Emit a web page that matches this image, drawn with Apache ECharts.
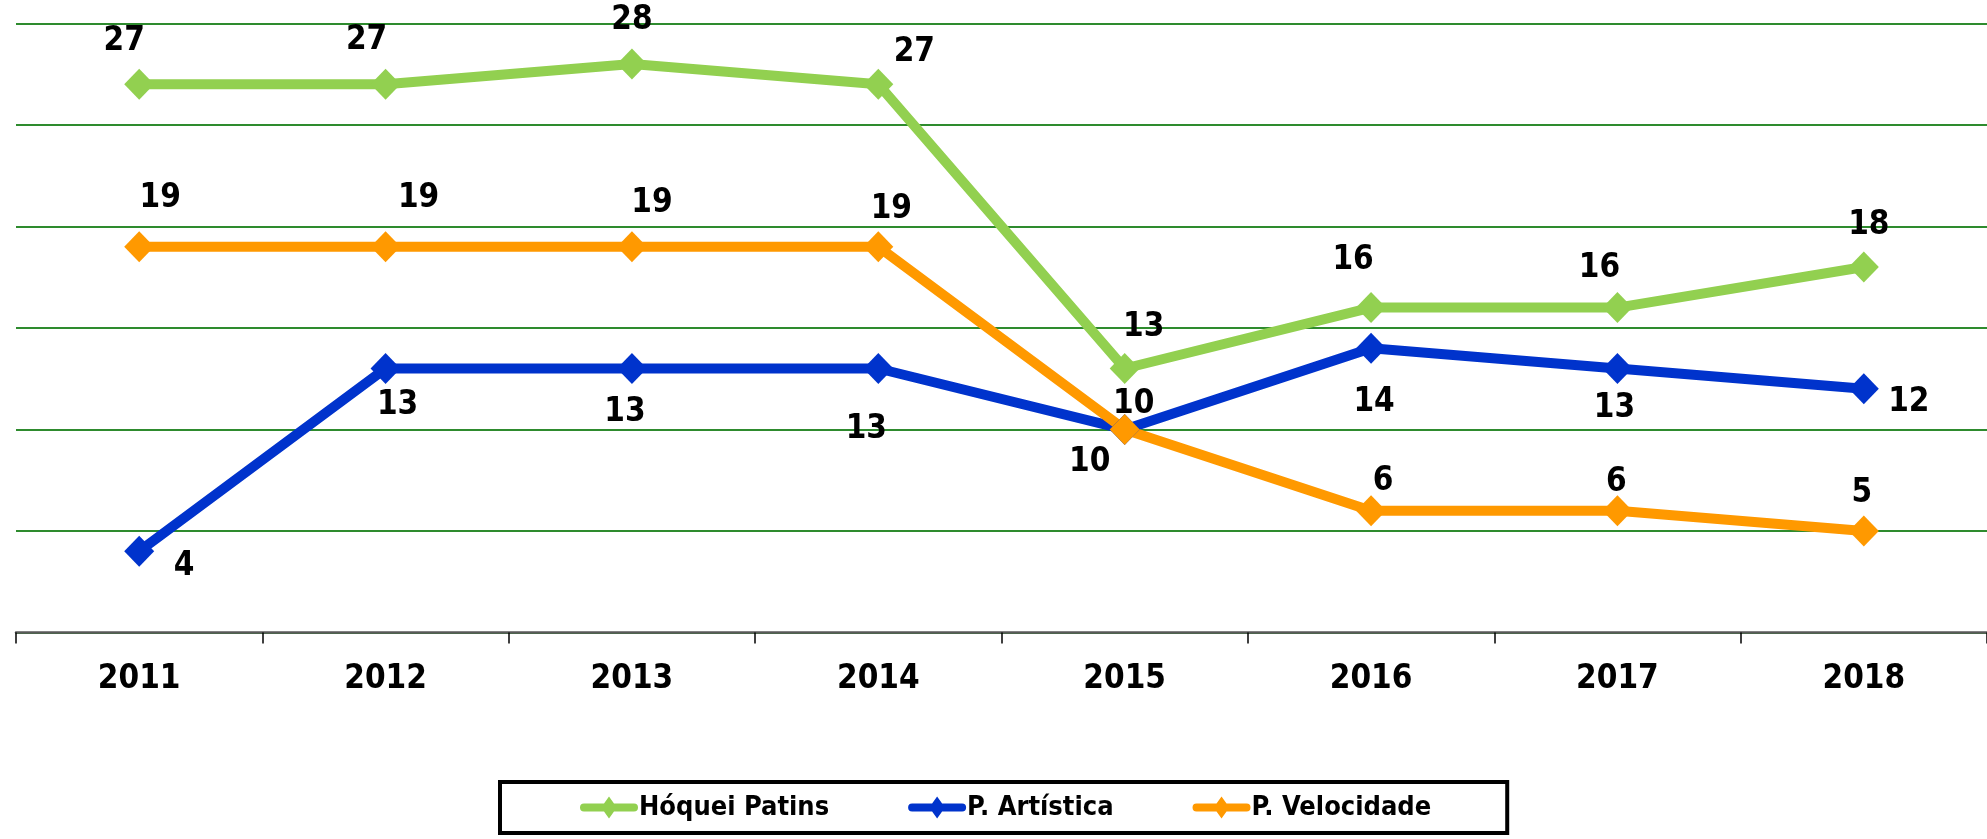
<!DOCTYPE html>
<html>
<head>
<meta charset="utf-8">
<script src="https://cdn.jsdelivr.net/npm/echarts@6/dist/echarts.min.js"></script>
<style>
html,body{margin:0;padding:0;background:#fff;}
#main{width:1987px;height:839px;}
</style>
</head>
<body>
<div id="main"></div>
<script>
var years = ['2011','2012','2013','2014','2015','2016','2017','2018'];
var hoquei = [27, 27, 28, 27, 13, 16, 16, 18];
var artistica = [4, 13, 13, 13, 10, 14, 13, 12];
var velocidade = [19, 19, 19, 19, 10, 6, 6, 5];

// label offsets (px) from each point, as placed in the original
var hoqueiLbl = [[-15,-43],[-19,-44],[0,-43],[36,-32],[19,-41],[-18,-47],[-18,-39],[5,-42]];
var artisticaLbl = [[45,15],[12,37],[-7,44],[-12,61],[9,-25],[3,54],[-3,40],[45,14]];
var velocidadeLbl = [[21,-48],[33,-48],[20,-43],[13,-37],[-35,33],[12,-29],[-1,-28],[-2,-38]];

var FONT = "'Liberation Sans Narrow', 'Arial Narrow', 'DejaVu Sans Condensed', sans-serif";
// legend icon: thick rounded bar with a diamond in the middle
var LEG_ICON = 'path://M5,7 L25,7 L30,0 L35,7 L55,7 A4,4 0 0 1 55,15 L35,15 L30,22 L25,15 L5,15 A4,4 0 0 1 5,7 Z';

function makeData(vals, offs){
	var out = [];
	for (var i = 0; i < vals.length; i++) {
		out.push({ value: vals[i], label: { offset: offs[i] } });
	}
	return out;
}

function makeSeries(name, vals, offs, color){
	return {
		name: name,
		type: 'line',
		data: makeData(vals, offs),
		symbol: 'diamond',
		symbolSize: [30, 31],
		showAllSymbol: true,
		lineStyle: { width: 10, color: color },
		itemStyle: { color: color },
		label: {
			show: true,
			position: 'inside',
			color: '#000',
			fontFamily: FONT,
			fontWeight: 'bold',
			fontSize: 33
		},
		emphasis: { disabled: true },
		animation: false
	};
}

var myChart = echarts.init(document.getElementById('main'));

var option = {
	backgroundColor: '#fff',
	grid: { left: 16, top: 23.3, width: 1973, height: 609.2 },
	legend: {
		left: 500,
		top: 782,
		padding: [12, 76, 12, 80],
		itemGap: 79,
		itemWidth: 58,
		itemHeight: 22,
		icon: LEG_ICON,
		borderColor: '#000',
		borderWidth: 4,
		textStyle: { fontFamily: FONT, fontWeight: 'bold', fontSize: 27, color: '#000', padding: [0, 0, 0, -4] },
		data: ['Hóquei Patins', 'P. Artística', 'P. Velocidade']
	},
	xAxis: {
		type: 'category',
		data: years,
		boundaryGap: true,
		axisLine: { lineStyle: { color: '#595959', width: 2.5 } },
		axisTick: { show: true, length: 11, lineStyle: { color: '#000', width: 1.5 } },
		axisLabel: { margin: 30, color: '#000', fontFamily: FONT, fontWeight: 'bold', fontSize: 33 }
	},
	yAxis: {
		type: 'value',
		min: 0,
		max: 30,
		interval: 5,
		axisLine: { show: false },
		axisTick: { show: false },
		axisLabel: { show: false },
		splitLine: { lineStyle: { color: '#2e8b2e', width: 2 } }
	},
	series: [
		makeSeries('Hóquei Patins', hoquei, hoqueiLbl, '#92d050'),
		makeSeries('P. Artística', artistica, artisticaLbl, '#0033cc'),
		makeSeries('P. Velocidade', velocidade, velocidadeLbl, '#ff9900')
	]
};

myChart.setOption(option);
</script>
</body>
</html>
